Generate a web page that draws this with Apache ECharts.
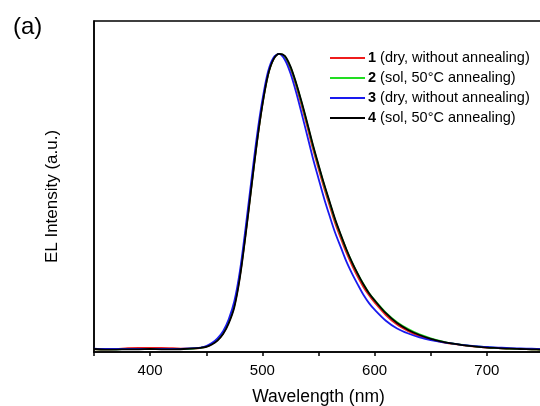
<!DOCTYPE html>
<html>
<head>
<meta charset="utf-8">
<script src="https://cdn.jsdelivr.net/npm/echarts@6/dist/echarts.min.js"></script>
<style>
  html, body { margin: 0; padding: 0; background: #fff; }
  #main { width: 540px; height: 406px; }
</style>
</head>
<body>
<div id="main"></div>
<script>
// wavelength (nm)
var wavelength = [350, 360, 370, 380, 390, 400, 410, 420, 430, 440, 445, 450, 455, 460, 465, 470, 475, 480, 485, 490,
  495, 500, 505, 510, 515, 520, 525, 530, 535, 540, 545, 550, 555, 560, 565, 570, 575, 580, 585, 590,
  595, 600, 610, 620, 630, 640, 650, 660, 670, 680, 690, 700, 710, 720, 730, 740, 750];

// normalised EL intensity
var s1 = [0.010, 0.009, 0.010, 0.013, 0.014, 0.014, 0.014, 0.013, 0.011, 0.012, 0.014, 0.018, 0.027, 0.040, 0.062, 0.100, 0.155, 0.255, 0.395, 0.548,
  0.700, 0.830, 0.930, 0.982, 1.000, 0.988, 0.950, 0.893, 0.826, 0.755, 0.682, 0.615, 0.550, 0.490, 0.430, 0.380, 0.332, 0.290, 0.252, 0.218,
  0.190, 0.166, 0.124, 0.092, 0.070, 0.053, 0.042, 0.033, 0.027, 0.022, 0.018, 0.015, 0.013, 0.011, 0.010, 0.009, 0.008];
var s2 = [0.010, 0.009, 0.009, 0.010, 0.010, 0.010, 0.010, 0.010, 0.010, 0.012, 0.014, 0.018, 0.028, 0.042, 0.064, 0.102, 0.158, 0.258, 0.398, 0.550,
  0.702, 0.832, 0.930, 0.983, 1.000, 0.990, 0.955, 0.900, 0.835, 0.765, 0.692, 0.625, 0.560, 0.500, 0.440, 0.390, 0.342, 0.300, 0.262, 0.228,
  0.198, 0.174, 0.132, 0.100, 0.077, 0.059, 0.046, 0.036, 0.028, 0.023, 0.019, 0.016, 0.013, 0.011, 0.010, 0.009, 0.008];
var s3 = [0.011, 0.010, 0.010, 0.010, 0.010, 0.010, 0.010, 0.010, 0.011, 0.013, 0.015, 0.020, 0.030, 0.046, 0.070, 0.110, 0.170, 0.272, 0.415, 0.570,
  0.720, 0.845, 0.940, 0.988, 1.000, 0.980, 0.935, 0.872, 0.800, 0.725, 0.650, 0.582, 0.515, 0.455, 0.398, 0.350, 0.302, 0.262, 0.226, 0.192,
  0.164, 0.142, 0.105, 0.079, 0.062, 0.049, 0.040, 0.033, 0.028, 0.023, 0.020, 0.017, 0.015, 0.013, 0.012, 0.011, 0.010];
var s4 = [0.010, 0.008, 0.008, 0.009, 0.009, 0.010, 0.009, 0.009, 0.010, 0.012, 0.014, 0.017, 0.025, 0.038, 0.060, 0.096, 0.150, 0.250, 0.390, 0.545,
  0.698, 0.828, 0.928, 0.982, 1.000, 0.993, 0.958, 0.903, 0.838, 0.768, 0.695, 0.628, 0.563, 0.503, 0.443, 0.392, 0.343, 0.300, 0.262, 0.227,
  0.197, 0.173, 0.130, 0.097, 0.074, 0.057, 0.044, 0.035, 0.028, 0.022, 0.018, 0.015, 0.013, 0.011, 0.010, 0.009, 0.008];

var names = ['1', '2', '3', '4'];
var labels = {
  '1': '{b|1} (dry, without annealing)',
  '2': '{b|2} (sol, 50°C annealing)',
  '3': '{b|3} (dry, without annealing)',
  '4': '{b|4} (sol, 50°C annealing)'
};
var colors = ['#ee1c1c', '#22dd22', '#1a1aee', '#000000'];
var font = 'Liberation Sans, Arial, sans-serif';

function pairs(ys) {
  var out = [];
  for (var i = 0; i < wavelength.length; i++) {
    out.push([wavelength[i], ys[i]]);
  }
  return out;
}

var myChart = echarts.init(document.getElementById('main'));
myChart.setOption({
  animation: false,
  color: colors,
  textStyle: { fontFamily: font },
  title: {
    text: '(a)',
    left: 13,
    top: 15,
    padding: 0,
    textStyle: { fontSize: 24, fontWeight: 'normal', color: '#000', fontFamily: font }
  },
  legend: {
    data: names,
    orient: 'vertical',
    left: 330,
    top: 50,
    padding: 0,
    icon: 'rect',
    itemWidth: 35,
    itemHeight: 2,
    itemGap: 4,
    formatter: function (n) { return labels[n]; },
    textStyle: {
      fontSize: 14.5,
      lineHeight: 16,
      color: '#000',
      fontFamily: font,
      padding: [0, 0, 0, -2],
      rich: { b: { fontWeight: 'bold', fontSize: 14.5, lineHeight: 16, color: '#000', fontFamily: font } }
    }
  },
  grid: {
    left: 94,
    top: 21,
    width: 449,
    bottom: 54,
    outerBoundsMode: 'none',
    show: true,
    borderColor: '#000',
    borderWidth: 1.5,
    containLabel: false
  },
  xAxis: {
    type: 'value',
    min: 350,
    max: 750,
    interval: 50,
    name: 'Wavelength (nm)',
    nameLocation: 'middle',
    nameGap: 36,
    nameTextStyle: { fontSize: 17.5, color: '#000', fontFamily: font },
    axisLine: { lineStyle: { color: '#000', width: 1.5 } },
    axisTick: { length: 4, lineStyle: { color: '#000', width: 1.5 } },
    axisLabel: {
      fontSize: 15,
      color: '#000',
      margin: 11,
      formatter: function (v) { return v % 100 === 0 ? String(v) : ''; }
    },
    splitLine: { show: false }
  },
  yAxis: {
    type: 'value',
    min: 0,
    max: 1.11,
    name: 'EL Intensity (a.u.)',
    nameLocation: 'middle',
    nameGap: 33,
    nameTextStyle: { fontSize: 17, color: '#000', fontFamily: font, padding: [0, 0, 0, -20] },
    axisLine: { show: true, lineStyle: { color: '#000', width: 1.5 } },
    axisTick: { show: false },
    axisLabel: { show: false },
    splitLine: { show: false }
  },
  series: [
    { name: '1', type: 'line', data: pairs(s1), symbol: 'none', smooth: 0.3, lineStyle: { width: 1.8 } },
    { name: '2', type: 'line', data: pairs(s2), symbol: 'none', smooth: 0.3, lineStyle: { width: 1.8 } },
    { name: '3', type: 'line', data: pairs(s3), symbol: 'none', smooth: 0.3, lineStyle: { width: 1.8 } },
    { name: '4', type: 'line', data: pairs(s4), symbol: 'none', smooth: 0.3, lineStyle: { width: 1.8 } }
  ]
});
</script>
</body>
</html>
